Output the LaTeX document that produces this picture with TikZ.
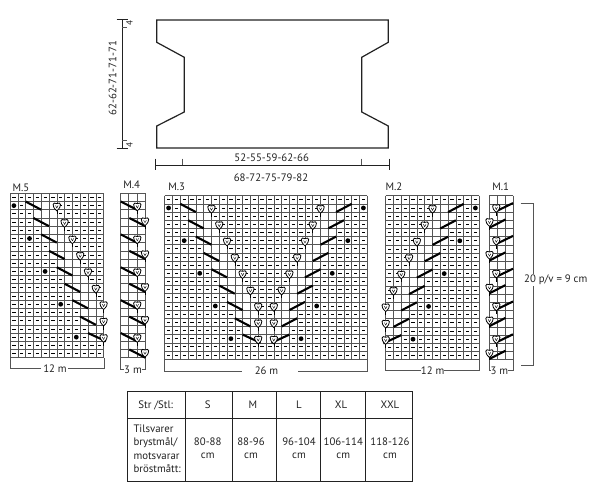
\documentclass[tikz,border=0pt]{standalone}
\usepackage{fontspec}
\setmainfont{PT Sans}
\definecolor{ink}{HTML}{222222}
\definecolor{gridc}{HTML}{555555}
\tikzset{
  x=1pt,y=-1pt,
  lab/.style={inner sep=0pt,text=ink,font=\fontsize{10.8}{12}\selectfont},
  gridline/.style={draw=gridc,line width=0.5pt},
  knit/.style={draw=black,line width=0.85pt},
  slashmark/.style={draw=black,line width=2.1pt},
  heartmark/.style={draw=black,fill=white,line width=0.8pt},
  outline/.style={draw=ink,line width=1.2pt,line join=miter},
  dimline/.style={draw=ink,line width=0.9pt},
  bracket/.style={draw=gridc,line width=0.7pt},
  tablerule/.style={draw=ink,line width=0.8pt}
}
\newcommand\chartgrid[6]{% x0 y0 cw rh cols rows
  \foreach \ci in {0,...,#5}{\draw[gridline] ({#1+#3*\ci},#2) -- ({#1+#3*\ci},{#2+#4*#6});}
  \foreach \ri in {0,...,#6}{\draw[gridline] (#1,{#2+#4*\ri}) -- ({#1+#3*#5},{#2+#4*\ri});}
}
\newcommand\heartat[2]{%
  \draw[black,line width=0.6pt] (#1,{#2}) -- (#1,{#2+8});
  \draw[heartmark] (#1,{#2+4.4}) .. controls ({#1-5.8},{#2-0.5}) and ({#1-4},{#2-5.2}) .. (#1,{#2-2.8})
     .. controls ({#1+4},{#2-5.2}) and ({#1+5.8},{#2-0.5}) .. (#1,{#2+4.4}) -- cycle;
  \draw[black,line width=0.4pt] ({#1-1.3},{#2-1}) -- (#1,{#2+1.5}) -- ({#1+1.3},{#2-1});
}
\newcommand\halfchart[5]{% x0 y0 signed-cw rh n
  \foreach \r in {0,...,19}{
    \pgfmathtruncatemacro\k{int((\r-1)/2)}
    \pgfmathtruncatemacro\odd{mod(\r,2)}
    \pgfmathtruncatemacro\evk{mod(\k,2)}
    \pgfmathtruncatemacro\lastc{#5-1}
    \foreach \c in {0,...,\lastc}{
      \def\kind{0}
      \ifnum\r=0 \def\kind{1}\fi
      \ifnum\r>17 \def\kind{1}\fi
      \ifnum\r>0 \ifnum\r<18
        \ifnum\c>\numexpr5+\k\relax \def\kind{1}\fi
        \ifnum\odd=1
          \ifnum\c<\numexpr\k+2\relax \def\kind{1}\fi
          \ifnum\evk=0 \ifnum\c=\k \def\kind{2}\fi\fi
        \else
          \ifnum\c<\numexpr\k+3\relax \def\kind{1}\fi
        \fi
      \fi\fi
      \ifnum\kind=1
        \draw[knit] ({#1+#3*(\c+.5)-1.6},{#2+#4*(\r+.5)}) -- ({#1+#3*(\c+.5)+1.6},{#2+#4*(\r+.5)});
      \fi
      \ifnum\kind=2
        \fill[black] ({#1+#3*(\c+.5)},{#2+#4*(\r+.5)}) circle (2.4);
      \fi
    }
  }
  \foreach \k in {0,...,8}{
    \pgfmathsetmacro\send{\k==8 ? 12.3 : 4+\k}
    \pgfmathsetmacro\hc{min(6+\k,12)}
    \draw[slashmark] ({#1+#3*(2+\k)},{#2+#4*(2*\k+1)}) -- ({#1+#3*\send},{#2+#4*(2*\k+2)});
    \heartat{#1+#3*\hc}{#2+#4*(2*\k+1.6)}
  }
}
\begin{document}
\begin{tikzpicture}
\useasboundingbox (0,0) rectangle (600,490);
\fill[white] (0,0) rectangle (600,490);

% pattern piece
\draw[outline] (156.7,20) -- (388.3,20) -- (388.3,42.3) -- (361.7,57.3) -- (361.7,112) -- (388.3,126)
  -- (388.3,148) -- (156.7,148) -- (156.7,126) -- (184.3,112) -- (184.3,57.3) -- (156.7,42.3) -- cycle;

% left dimension
\draw[dimline] (122.3,19) -- (122.3,148.3);
\draw[dimline] (116.7,19) -- (128.3,19);
\draw[dimline] (116.7,148.3) -- (128.3,148.3);
\draw[bracket] (122.3,27.5) -- (127,27.5);
\draw[bracket] (122.3,140) -- (127,140);
\node[lab,rotate=90,font=\fontsize{9}{9}\selectfont] (f1) at (129.5,23.3) {4};
\node[lab,rotate=90,font=\fontsize{9}{9}\selectfont] (f2) at (129.5,145) {4};
\node[lab,rotate=90] (hgt) at (112.7,78.3) {62-62-71-71-71};

% bottom dimension
\draw[dimline] (155,165) -- (389,165);
\draw[dimline] (155,158.7) -- (155,170);
\draw[dimline] (389,158.7) -- (389,170);
\draw[bracket] (182.7,158.7) -- (182.7,165);
\draw[bracket] (361.7,158.7) -- (361.7,165);
\node[lab] (w1) at (271.7,157.3) {52-55-59-62-66};
\node[lab] (w2) at (271,177.3) {68-72-75-79-82};

% chart labels
\node[lab] (m5) at (21,187.7) {M.5};
\node[lab] (m4) at (131.7,185) {M.4};
\node[lab] (m3) at (176.7,186.7) {M.3};
\node[lab] (m2) at (394,187) {M.2};
\node[lab] (m1) at (500.7,187) {M.1};

% M.5
\chartgrid{10}{193.3}{7.8}{8.22}{12}{20}
\halfchart{10}{193.3}{7.8}{8.22}{12}
\draw[bracket] (10,357.7) -- (10,368) -- (40.7,368);
\draw[bracket] (68,368) -- (104,368) -- (104,357.7);
\node[lab] (t5) at (55,369) {12 m};

% M.4
\chartgrid{120}{193.3}{8.43}{8.22}{3}{20}
\foreach \k in {0,...,9}{
  \pgfmathtruncatemacro\ev{mod(\k,2)}
  \ifnum\ev=0
    \draw[slashmark] (120.7,{193.3+8.22*(2*\k+1)}) -- (137,{193.3+8.22*(2*\k+2)});
    \heartat{137.3}{193.3+8.22*(2*\k+1.6)}
  \else
    \draw[slashmark] (129.3,{193.3+8.22*(2*\k+1)}) -- (145.3,{193.3+8.22*(2*\k+2)});
    \heartat{145}{193.3+8.22*(2*\k+1.4)}
  \fi
}
\draw[bracket] (120,357.7) -- (120,369) -- (124,369);
\draw[bracket] (141.5,369) -- (145.3,369) -- (145.3,357.7);
\node[lab] (t4) at (133,370) {3 m};

% M.3
\chartgrid{164.7}{195.7}{7.79}{8.17}{26}{20}
\halfchart{164.7}{195.7}{7.79}{8.17}{13}
\halfchart{367.3}{195.7}{-7.79}{8.17}{13}
\draw[bracket] (164.7,359) -- (164.7,371.7) -- (241.7,371.7);
\draw[bracket] (298,371.7) -- (367.3,371.7) -- (367.3,359);
\node[lab] (t3) at (266.5,371) {26 m};

% M.2
\chartgrid{385.7}{195.7}{7.8}{8.2}{12}{20}
\halfchart{479.3}{195.7}{-7.8}{8.2}{12}
\draw[bracket] (385.7,359.7) -- (385.7,370.5) -- (421,370.5);
\draw[bracket] (444,370.5) -- (479.3,370.5) -- (479.3,359.7);
\node[lab] (t2) at (432.7,370.5) {12 m};

% M.1
\chartgrid{489}{195.7}{8.1}{8.2}{3}{20}
\foreach \k in {0,...,9}{
  \pgfmathtruncatemacro\ev{mod(\k,2)}
  \ifnum\ev=0
    \draw[slashmark] (496,{195.7+8.2*(2*\k+2)-0.8}) -- (513,{195.7+8.2*(2*\k+1)-0.8});
    \heartat{496.3}{195.7+8.2*(2*\k+1.5)}
  \else
    \draw[slashmark] (489.5,{195.7+8.2*(2*\k+2)-0.8}) -- (505.5,{195.7+8.2*(2*\k+1)-0.8});
    \heartat{489.5}{195.7+8.2*(2*\k+1.2)}
  \fi
}
\draw[bracket] (489,359.7) -- (489,370.5) -- (491,370.5);
\draw[bracket] (508.3,370.5) -- (513.3,370.5) -- (513.3,359.7);
\node[lab] (t1) at (499.3,370.5) {3 m};

% gauge bracket
\draw[bracket,line width=0.9pt] (520.7,203.7) -- (533.3,203.7) -- (533.3,365.7) -- (520.7,365.7);
\node[lab,fill=white,inner ysep=1pt,inner xsep=2pt] (gauge) at (555.7,280) {20 p/v = 9 cm};

% table
\draw[tablerule] (127.3,391.7) rectangle (412.7,481);
\draw[tablerule] (127.3,418.3) -- (412.7,418.3);
\foreach \xc in {185.7,232.3,276.7,320.7,365.7}{\draw[tablerule] (\xc,391.7) -- (\xc,481);}
\node[lab] (h0) at (155.7,405) {Str /Stl:};
\node[lab] (hs) at (207.7,405) {S};
\node[lab] (hm) at (253,405) {M};
\node[lab] (hl) at (299,405) {L};
\node[lab] (hxl) at (341,405) {XL};
\node[lab] (hxxl) at (390,405) {XXL};
\node[lab,anchor=base west] (c1) at (133.3,432) {Tilsvarer};
\node[lab,anchor=base west] (c2) at (133.3,445.6) {brystmål/};
\node[lab,anchor=base west] (c3) at (133.3,459.2) {motsvarar};
\node[lab,anchor=base west] (c4) at (133.3,472.8) {bröstmått:};
\node[lab] (v1a) at (207.7,441.7) {80-88};
\node[lab] (v1b) at (207.7,455.7) {cm};
\node[lab] (v2a) at (251,441.7) {88-96};
\node[lab] (v2b) at (251,455.7) {cm};
\node[lab] (v3a) at (299,441.7) {96-104};
\node[lab] (v3b) at (299,455.7) {cm};
\node[lab] (v4a) at (343.3,441.7) {106-114};
\node[lab] (v4b) at (343.3,455.7) {cm};
\node[lab] (v5a) at (390,441.7) {118-126};
\node[lab] (v5b) at (390,455.7) {cm};
\end{tikzpicture}
\end{document}
